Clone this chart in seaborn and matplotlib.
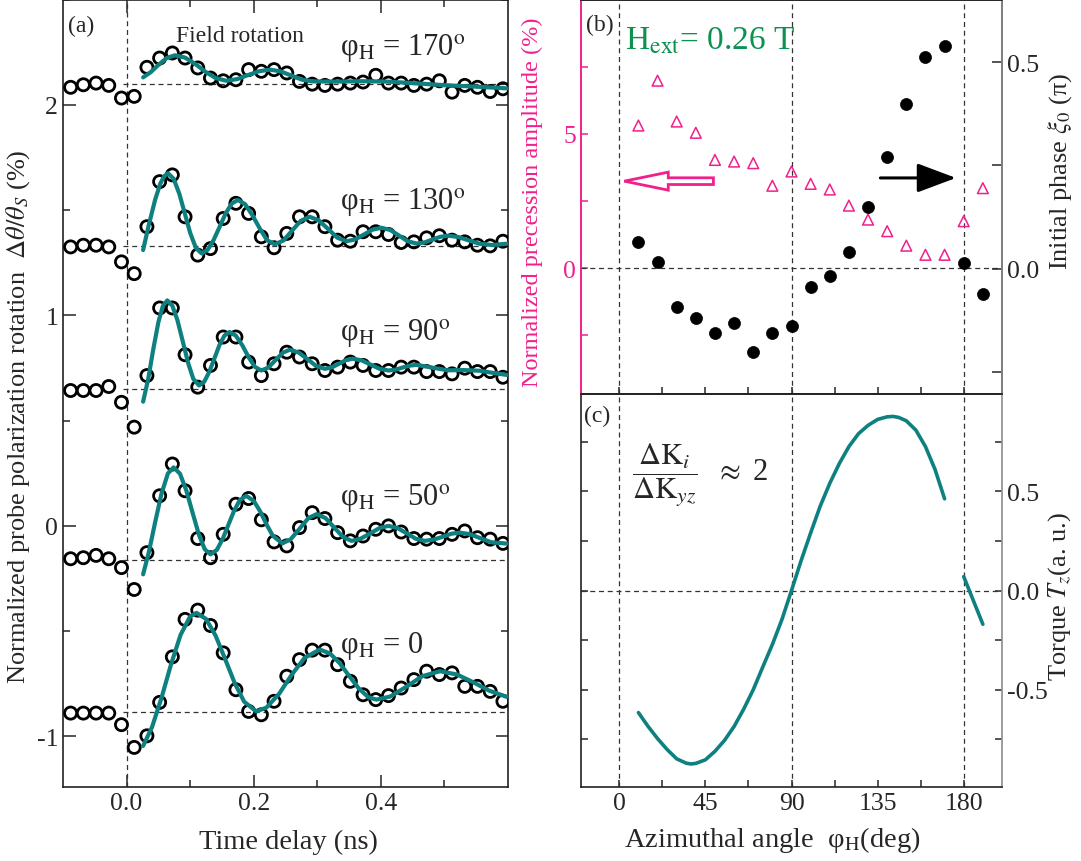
import matplotlib
matplotlib.use('Agg')
import matplotlib.pyplot as plt
from matplotlib.patches import FancyArrow
from matplotlib.ticker import MultipleLocator, FixedLocator
import seaborn as sns
import pandas as pd

# ---------------- panel (a): time traces ----------------
delay_ns = [-0.088, -0.068, -0.048, -0.028, -0.008, 0.012, 0.032, 0.052, 0.072, 0.092,
            0.112, 0.132, 0.152, 0.172, 0.192, 0.212, 0.232, 0.252, 0.272, 0.292,
            0.312, 0.332, 0.352, 0.372, 0.392, 0.412, 0.432, 0.452, 0.472, 0.492,
            0.512, 0.532, 0.552, 0.572, 0.592]

rot_170 = [2.083, 2.095, 2.103, 2.092, 2.032, 2.040, 2.178, 2.222, 2.246, 2.222, 2.175, 2.127,
           2.114, 2.119, 2.167, 2.159, 2.167, 2.151, 2.111, 2.098, 2.092, 2.098, 2.103, 2.108,
           2.140, 2.103, 2.103, 2.092, 2.098, 2.114, 2.060, 2.092, 2.083, 2.063, 2.076]
rot_130 = [1.325, 1.333, 1.333, 1.325, 1.254, 1.198, 1.421, 1.635, 1.667, 1.468, 1.286, 1.317,
           1.460, 1.532, 1.484, 1.373, 1.321, 1.389, 1.468, 1.468, 1.421, 1.357, 1.352, 1.397,
           1.397, 1.384, 1.346, 1.349, 1.368, 1.378, 1.357, 1.349, 1.333, 1.330, 1.352]
rot_90 = [0.643, 0.643, 0.643, 0.662, 0.587, 0.469, 0.714, 1.035, 1.035, 0.813, 0.659, 0.762,
          0.897, 0.897, 0.778, 0.714, 0.770, 0.825, 0.802, 0.770, 0.738, 0.754, 0.778, 0.762,
          0.738, 0.738, 0.754, 0.754, 0.733, 0.733, 0.722, 0.749, 0.733, 0.733, 0.706]
rot_50 = [-0.156, -0.151, -0.140, -0.156, -0.198, -0.302, -0.127, 0.143, 0.294, 0.167, -0.060,
          -0.151, -0.040, 0.103, 0.130, 0.029, -0.076, -0.095, -0.008, 0.063, 0.035, -0.032,
          -0.071, -0.048, -0.016, 0.000, -0.029, -0.060, -0.063, -0.060, -0.040, -0.024,
          -0.056, -0.063, -0.083]
rot_0 = [-0.889, -0.889, -0.889, -0.889, -0.944, -1.052, -0.997, -0.838, -0.622, -0.444, -0.400,
         -0.473, -0.603, -0.778, -0.881, -0.897, -0.833, -0.714, -0.635, -0.590, -0.590, -0.659,
         -0.738, -0.802, -0.825, -0.806, -0.770, -0.730, -0.690, -0.706, -0.698, -0.762,
         -0.762, -0.786, -0.833]

# fitted damped precession curves
fit_t_170 = [0.026, 0.038, 0.050, 0.063, 0.076, 0.092, 0.108, 0.124, 0.140, 0.157, 0.174, 0.191,
             0.208, 0.225, 0.242, 0.259, 0.276, 0.293, 0.330, 0.370, 0.410, 0.450, 0.500, 0.550, 0.598]
fit_v_170 = [2.130, 2.155, 2.189, 2.222, 2.235, 2.224, 2.194, 2.157, 2.127, 2.114, 2.122, 2.141,
             2.159, 2.167, 2.159, 2.139, 2.119, 2.111, 2.110, 2.112, 2.110, 2.103, 2.093, 2.086, 2.078]
fit_t_130 = [0.026, 0.035, 0.045, 0.053, 0.059, 0.065, 0.074, 0.083, 0.0915, 0.100, 0.109, 0.118,
             0.1275, 0.137, 0.1465, 0.156, 0.1655, 0.175, 0.1865, 0.198, 0.210, 0.221, 0.233,
             0.247, 0.2605, 0.274, 0.288, 0.3025, 0.317, 0.3315, 0.346, 0.360, 0.3735, 0.387,
             0.401, 0.415, 0.4285, 0.442, 0.456, 0.4685, 0.481, 0.4935, 0.506, 0.522, 0.538,
             0.555, 0.575, 0.598]
fit_v_130 = [1.310, 1.430, 1.550, 1.625, 1.660, 1.675, 1.649, 1.577, 1.485, 1.392, 1.320, 1.294,
             1.311, 1.358, 1.421, 1.485, 1.531, 1.548, 1.528, 1.475, 1.410, 1.357, 1.337,
             1.356, 1.403, 1.449, 1.468, 1.451, 1.410, 1.369, 1.352, 1.361, 1.384, 1.407,
             1.416, 1.405, 1.379, 1.352, 1.341, 1.346, 1.360, 1.373, 1.378, 1.372, 1.356,
             1.340, 1.334, 1.340]
fit_t_90 = [0.026, 0.034, 0.042, 0.050, 0.057, 0.064, 0.072, 0.080, 0.089, 0.097, 0.105, 0.114,
            0.122, 0.130, 0.138, 0.146, 0.154, 0.162, 0.172, 0.182, 0.192, 0.202, 0.212, 0.223,
            0.2345, 0.246, 0.257, 0.271, 0.2845, 0.298, 0.312, 0.323, 0.334, 0.345, 0.356,
            0.370, 0.384, 0.398, 0.412, 0.423, 0.434, 0.445, 0.456, 0.480, 0.505, 0.530,
            0.555, 0.578, 0.598]
fit_v_90 = [0.590, 0.697, 0.839, 0.967, 1.044, 1.071, 1.046, 0.977, 0.869, 0.772, 0.698, 0.667,
            0.684, 0.731, 0.794, 0.858, 0.904, 0.921, 0.903, 0.858, 0.801, 0.755, 0.738, 0.752,
            0.788, 0.823, 0.837, 0.823, 0.792, 0.760, 0.746, 0.753, 0.770, 0.787, 0.794,
            0.786, 0.766, 0.746, 0.738, 0.742, 0.752, 0.761, 0.765, 0.752, 0.739, 0.740,
            0.737, 0.726, 0.717]
fit_t_50 = [0.026, 0.035, 0.045, 0.055, 0.065, 0.074, 0.084, 0.094, 0.104, 0.114, 0.123, 0.132,
            0.142, 0.151, 0.160, 0.169, 0.178, 0.188, 0.200, 0.210, 0.220, 0.230, 0.245, 0.258,
            0.272, 0.286, 0.299, 0.313, 0.327, 0.341, 0.354, 0.368, 0.383, 0.398, 0.412,
            0.426, 0.440, 0.455, 0.469, 0.483, 0.497, 0.511, 0.524, 0.540, 0.557, 0.574, 0.598]
fit_v_50 = [-0.230, -0.125, 0.018, 0.154, 0.249, 0.278, 0.248, 0.168, 0.061, -0.044, -0.111,
            -0.135, -0.114, -0.063, 0.004, 0.071, 0.122, 0.143, 0.119, 0.070, 0.008, -0.047,
            -0.083, -0.064, -0.014, 0.037, 0.056, 0.037, -0.009, -0.054, -0.071, -0.061,
            -0.036, -0.010, 0.000, -0.010, -0.034, -0.061, -0.071, -0.065, -0.052, -0.037,
            -0.032, -0.039, -0.059, -0.078, -0.084]
fit_t_0 = [0.026, 0.040, 0.055, 0.070, 0.085, 0.100, 0.110, 0.125, 0.140, 0.155, 0.170, 0.185,
           0.204, 0.220, 0.240, 0.260, 0.280, 0.304, 0.320, 0.335, 0.350, 0.365, 0.380, 0.393,
           0.415, 0.440, 0.465, 0.493, 0.520, 0.545, 0.570, 0.598]
fit_v_0 = [-1.045, -0.956, -0.816, -0.657, -0.517, -0.430, -0.413, -0.442, -0.521, -0.632,
           -0.746, -0.835, -0.881, -0.863, -0.797, -0.706, -0.627, -0.587, -0.606, -0.651,
           -0.712, -0.771, -0.813, -0.825, -0.810, -0.764, -0.714, -0.690, -0.706, -0.742,
           -0.782, -0.812]

baselines = [2.098, 1.330, 0.651, -0.162, -0.886]
angle_names = ['170', '130', '90', '50', '0']
label_y = [2.238, 1.505, 0.886, 0.099, -0.598]

# ---------------- panel (b): amplitude and phase ----------------
angle_deg = [10, 20, 30, 40, 50, 60, 70, 80, 90, 100, 110, 120, 130, 140, 150, 160, 170, 180, 190]
amplitude = [5.31, 6.98, 5.46, 5.04, 4.03, 3.97, 3.91, 3.07, 3.60, 3.14, 2.93, 2.33, 1.81, 1.38,
             0.84, 0.50, 0.50, 1.75, 2.98]
phase = [0.065, 0.015, -0.092, -0.121, -0.155, -0.131, -0.202, -0.157, -0.139, -0.044, -0.018,
         0.041, 0.149, 0.271, 0.399, 0.513, 0.539, 0.013, -0.061]

# ---------------- panel (c): torque ----------------
torque_angle_1 = [10, 15, 20, 25, 30, 35, 37.5, 40, 45, 50, 55, 60, 65, 70, 75, 80, 85, 90,
                  95, 100, 105, 110, 115, 120, 125, 130, 135, 140, 143, 146, 150, 155, 160,
                  165, 170]
torque_1 = [-0.615, -0.684, -0.746, -0.801, -0.848, -0.870, -0.874, -0.871, -0.853, -0.810,
            -0.755, -0.685, -0.598, -0.500, -0.385, -0.272, -0.146, 0.0, 0.150, 0.290, 0.425,
            0.540, 0.640, 0.725, 0.790, 0.832, 0.862, 0.875, 0.877, 0.872, 0.855, 0.808, 0.725,
            0.610, 0.462]
torque_angle_2 = [180, 190]
torque_2 = [0.07, -0.17]

teal = '#0e8080'
magenta = '#f0208c'
green = '#0b9150'
dash_col = '#333333'
dash_style = (0, (4, 3))

sns.set_style('ticks')
plt.rcParams['font.family'] = ['Liberation Serif', 'DejaVu Serif']
plt.rcParams['mathtext.fontset'] = 'stix'
plt.rcParams['axes.unicode_minus'] = False
plt.rcParams['xtick.direction'] = 'in'
plt.rcParams['ytick.direction'] = 'in'
plt.rcParams['axes.edgecolor'] = '#222222'
plt.rcParams['axes.linewidth'] = 1.2

W, H = 1081, 862
fig = plt.figure(figsize=(W / 100, H / 100), dpi=100)
ax_a = fig.add_axes([63 / W, 1 - 788 / H, 445 / W, 787.5 / H])
ax_b = fig.add_axes([581 / W, 1 - 395 / H, 421 / W, 394.5 / H])
ax_c = fig.add_axes([581 / W, 1 - 788 / H, 421 / W, 393 / H])

tick_fs = 18.5
label_fs = 19
xlabel_fs = 20.5

# ---- (a)
ax_a.axvline(0, color=dash_col, ls=dash_style, lw=0.9)
series_pts = [rot_170, rot_130, rot_90, rot_50, rot_0]
series_fit = [(fit_t_170, fit_v_170), (fit_t_130, fit_v_130), (fit_t_90, fit_v_90),
              (fit_t_50, fit_v_50), (fit_t_0, fit_v_0)]
for pts, (ft, fv), base, name, ly in zip(series_pts, series_fit, baselines, angle_names, label_y):
    ax_a.hlines(base, -0.005, 0.6, colors=dash_col, linestyles=dash_style, lw=0.9)
    df = pd.DataFrame({'t': delay_ns, 'v': pts})
    sns.scatterplot(data=df, x='t', y='v', ax=ax_a, s=76, marker='o', facecolor='none',
                    edgecolor='black', linewidth=2.0, zorder=3)
    sns.lineplot(x=ft, y=fv, ax=ax_a, color=teal, lw=3.0, sort=False, estimator=None, zorder=4)
    deg = r'$^{\rm o}$' if name != '0' else ''
    ax_a.text(0.335, ly, 'φ$_{\\rm H}$ = ' + name + deg, fontsize=22, ha='left', va='baseline')

ax_a.text(0.178, 2.327, 'Field rotation', fontsize=17, ha='center', va='center')
ax_a.text(-0.072, 2.375, '(a)', fontsize=17, ha='center', va='center')
ax_a.set_xlim(-0.1, 0.6)
ax_a.set_ylim(-1.24, 2.5)
ax_a.xaxis.set_major_locator(FixedLocator([0.0, 0.2, 0.4]))
ax_a.xaxis.set_minor_locator(FixedLocator([0.1, 0.3, 0.5]))
ax_a.yaxis.set_major_locator(MultipleLocator(1))
ax_a.yaxis.set_minor_locator(MultipleLocator(0.5))
ax_a.set_xticklabels(['0.0', '0.2', '0.4'])
ax_a.tick_params(which='both', top=True, right=True, labelsize=tick_fs, width=1.1)
ax_a.tick_params(which='major', length=9)
ax_a.tick_params(which='minor', length=5)
ax_a.set_xlabel('')
ax_a.set_ylabel('')
fig.text(288 / W, 1 - 842 / H, 'Time delay (ns)', fontsize=xlabel_fs, ha='center', va='center')
fig.text(18 / W, 1 - 417 / H, r'Normalized probe polarization rotation  $\mathit{\Delta\theta/\theta_S}$ (%)',
         fontsize=label_fs, rotation=90, ha='center', va='center')

# ---- (b)
ax_b2 = ax_b.twinx()
for x0 in [0, 90, 180]:
    ax_b.axvline(x0, color=dash_col, ls=dash_style, lw=0.9)
ax_b.axhline(0, color=dash_col, ls=dash_style, lw=0.9)
sns.scatterplot(x=angle_deg, y=amplitude, ax=ax_b, marker='^', s=60, facecolor='none',
                edgecolor=magenta, linewidth=1.1, zorder=3)
sns.scatterplot(x=angle_deg, y=phase, ax=ax_b2, marker='o', s=75, color='black',
                edgecolor='black', linewidth=0.5, zorder=3)
ax_b.set_xlim(-20, 200)
ax_b.set_ylim(-4.68, 10.0)
ax_b2.set_ylim(-0.304, 0.652)
ax_b.set_yticks([0, 5])
ax_b.yaxis.set_minor_locator(FixedLocator([-2.5, 2.5, 7.5]))
ax_b2.set_yticks([0.0, 0.5])
ax_b2.set_yticklabels(['0.0', '0.5'])
ax_b2.yaxis.set_minor_locator(FixedLocator([-0.25, 0.25]))
ax_b.set_xticks([0, 45, 90, 135, 180])
ax_b.xaxis.set_minor_locator(FixedLocator([22.5, 67.5, 112.5, 157.5]))
ax_b.tick_params(axis='x', which='both', labelbottom=False, length=5, width=1.1)
ax_b.tick_params(axis='y', which='both', colors=magenta, labelsize=tick_fs, length=5, width=1.1)
ax_b2.tick_params(axis='y', which='both', labelsize=tick_fs, length=7, width=1.1)
ax_b.spines['left'].set_color(magenta)
ax_b2.spines['left'].set_color(magenta)
ax_b2.spines['right'].set_color('#8c8c8c')
ax_b.set_ylabel('')
ax_b2.set_ylabel('')
ax_b.text(-10, 9.09, '(b)', fontsize=17, ha='center', va='center')
ax_b.text(3.0, 8.16, r'H$_{\rm ext}$= 0.26 T', fontsize=24, color=green, ha='left', va='baseline')
ax_b.add_patch(FancyArrow(49.2, 3.24, -46.6, 0, width=0.25, head_width=0.67, head_length=23,
                          length_includes_head=True, fc='white', ec=magenta, lw=2.0, zorder=5))
ax_b.annotate('', xy=(177.4, 3.36), xytext=(135, 3.36),
              arrowprops=dict(arrowstyle='-|>,head_length=0.8,head_width=0.3',
                              mutation_scale=30, lw=2.2, color='black'))
fig.text(532 / W, 1 - 202 / H, 'Normalized precession amplitude (%)', fontsize=17.5,
         color=magenta, rotation=90, ha='center', va='center')
fig.text(1060 / W, 1 - 172 / H, 'Initial phase $\\xi_0$ (π)', fontsize=label_fs,
         rotation=90, ha='center', va='center')

# ---- (c)
for x0 in [0, 90, 180]:
    ax_c.axvline(x0, color=dash_col, ls=dash_style, lw=0.9)
ax_c.axhline(0, color=dash_col, ls=dash_style, lw=0.9)
sns.lineplot(x=torque_angle_1, y=torque_1, ax=ax_c, color=teal, lw=2.6, sort=False, estimator=None)
sns.lineplot(x=torque_angle_2, y=torque_2, ax=ax_c, color=teal, lw=2.6, sort=False, estimator=None)
ax_c.set_xlim(-20, 200)
ax_c.set_ylim(-0.99, 0.99)
ax_c.set_xticks([0, 45, 90, 135, 180])
ax_c.xaxis.set_minor_locator(FixedLocator([22.5, 67.5, 112.5, 157.5]))
ax_c.set_yticks([-0.5, 0.0, 0.5])
ax_c.set_yticklabels(['-0.5', '0.0', '0.5'])
ax_c.yaxis.set_minor_locator(FixedLocator([-0.75, -0.25, 0.25, 0.75]))
ax_c.tick_params(which='both', left=True, right=True, labelleft=False, labelright=True,
                 labelsize=tick_fs, length=5, width=1.1)
ax_c.spines['right'].set_color('#8c8c8c')
ax_c.set_xlabel('')
ax_c.set_ylabel('')
ax_c.text(-11.5, 0.884, '(c)', fontsize=17, ha='center', va='center')
ax_c.text(6.5, 0.585, r'$\dfrac{\Delta\mathrm{K}_i}{\Delta\mathrm{K}_{yz}}$  $\approx$ 2',
          fontsize=22, ha='left', va='center')
fig.text(772 / W, 1 - 840 / H, 'Azimuthal angle  φ$_{\\rm H}$(deg)', fontsize=xlabel_fs,
         ha='center', va='center')
fig.text(1060 / W, 1 - 597 / H, r'Torque $T_z$(a. u.)', fontsize=label_fs,
         rotation=90, ha='center', va='center')

fig.savefig('out.png', dpi=100)
